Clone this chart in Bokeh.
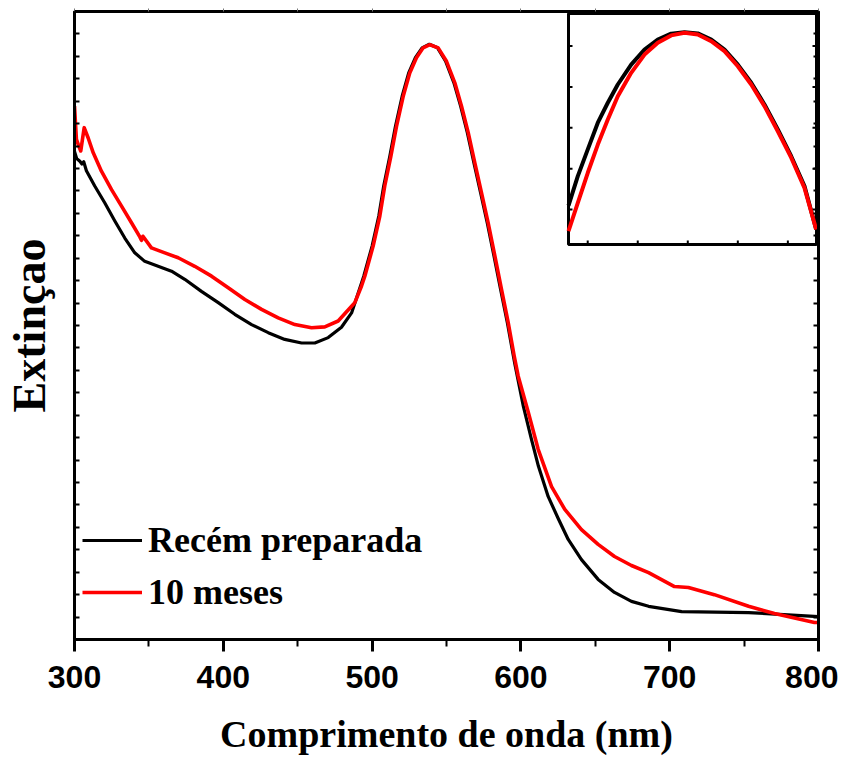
from bokeh.plotting import figure
from bokeh.models import Range1d, LinearAxis, FixedTicker, Legend, LegendItem, ColumnDataSource
from bokeh.embed import file_html
from bokeh.resources import INLINE

# ---------------- data ----------------
wl_fresh = [300, 301.5, 303.6, 305.0, 306.2, 308, 313.6, 320.4, 327.1, 333.8, 340.5, 347.2, 356.2,
            365.2, 374.1, 385.3, 396.6, 407.7, 419.0, 430.2, 441.3, 452.6, 461.5, 470.5, 479.4,
            486.2, 492.9, 494.4, 500.0, 504.5, 507.8, 511.9, 515.7, 520.2, 524.6, 529.1, 533.6,
            538.5, 544.0, 549.4, 555.0, 559.5, 564.0, 568.4, 572.9, 577.4, 581.9, 586.4, 590.9,
            595.9, 601.7, 607.1, 611.8, 618.3, 625.3, 631.8, 640.7, 651.9, 662.9, 674.3, 685.8,
            708, 753, 800]
ext_fresh = [1.088, 1.072, 1.066, 1.060, 1.065, 1.045, 1.011, 0.973, 0.933, 0.895, 0.862, 0.843,
             0.832, 0.821, 0.803, 0.776, 0.751, 0.725, 0.702, 0.684, 0.669, 0.661, 0.661, 0.673,
             0.696, 0.728, 0.795, 0.810, 0.877, 0.944, 1.011, 1.077, 1.144, 1.211, 1.263, 1.297,
             1.319, 1.327, 1.319, 1.289, 1.241, 1.189, 1.130, 1.063, 0.996, 0.929, 0.855, 0.780,
             0.706, 0.615, 0.519, 0.446, 0.386, 0.319, 0.268, 0.223, 0.178, 0.134, 0.105, 0.085,
             0.074, 0.062, 0.060, 0.051]

wl_aged = [300.0, 301.3, 302.9, 304.2, 306.5, 309.2, 312.6, 318.1, 324.9, 331.6, 338.3, 344.0,
           345.0, 346.0, 351.7, 360.7, 369.7, 380.8, 392.1, 403.3, 414.5, 425.7, 436.9, 448.1,
           459.3, 468.2, 477.2, 486.2, 488.4, 492.9, 495.1, 500.7, 505.2, 508.5, 512.6, 516.4,
           520.9, 525.3, 529.8, 534.3, 538.8, 544.4, 550.0, 555.6, 560.1, 564.6, 569.0, 573.5,
           578.0, 582.5, 587.0, 591.5, 595.5, 598.2, 605.0, 611.6, 620.6, 629.5, 640.7, 651.9,
           662.9, 674.3, 685.8, 703.2, 712.6, 730.0, 753.0, 770.4, 797.3, 800]
ext_aged = [1.189, 1.115, 1.100, 1.089, 1.141, 1.118, 1.085, 1.044, 1.003, 0.966, 0.929, 0.897,
            0.890, 0.899, 0.873, 0.862, 0.851, 0.832, 0.810, 0.784, 0.758, 0.736, 0.717, 0.702,
            0.695, 0.697, 0.710, 0.743, 0.751, 0.788, 0.810, 0.877, 0.944, 1.011, 1.077, 1.144,
            1.211, 1.263, 1.297, 1.319, 1.326, 1.319, 1.289, 1.241, 1.189, 1.130, 1.063, 0.996,
            0.929, 0.855, 0.780, 0.706, 0.632, 0.587, 0.506, 0.424, 0.341, 0.290, 0.245, 0.212,
            0.185, 0.165, 0.149, 0.118, 0.116, 0.100, 0.074, 0.058, 0.038, 0.038]

# inset: enlarged view of the band maximum
inset_wl = [520.00, 521.50, 523.11, 524.73, 526.34, 527.95, 530.11, 532.26, 534.40, 536.56,
            538.71, 540.85, 543.02, 545.16, 547.31, 549.47, 551.61, 553.76, 555.92, 558.06, 559.95]
inset_fresh = [1.2560, 1.2681, 1.2791, 1.2901, 1.2983, 1.3058, 1.3140, 1.3202, 1.3243, 1.3267,
               1.3273, 1.3268, 1.3243, 1.3202, 1.3140, 1.3065, 1.2976, 1.2873, 1.2763, 1.2640,
               1.2462]
inset_aged = [1.2455, 1.2571, 1.2695, 1.2811, 1.2914, 1.3010, 1.3106, 1.3181, 1.3230, 1.3260,
              1.3271, 1.3264, 1.3236, 1.3195, 1.3133, 1.3058, 1.2969, 1.2866, 1.2757, 1.2633,
              1.2462]

x_ticks = [300, 400, 500, 600, 700, 800]
x_minor_ticks = [350, 450, 550, 650, 750]
series_labels = ["Recém preparada", "10 meses"]
x_label = "Comprimento de onda (nm)"
y_label = "Extinçao"

# ---------------- layout constants ----------------
FRAME_W, FRAME_H = 744, 628
X0, X1 = 300, 800
Y0, Y1 = 0.0, 1.4
INSET_X = (520.0, 560.0)
INSET_Y = (1.24, 1.335)
# inset box position inside the frame (pixels from frame left / top)
IN_L, IN_R, IN_T, IN_B = 494.0, 742.0, 2.0, 233.0

sx = (INSET_X[1] - INSET_X[0]) / (IN_R - IN_L)
sy = (INSET_Y[1] - INSET_Y[0]) / (IN_B - IN_T)
inset_xr = Range1d(INSET_X[0] - IN_L * sx, INSET_X[1] + (FRAME_W - IN_R) * sx)
inset_yr = Range1d(INSET_Y[0] - (FRAME_H - IN_B) * sy, INSET_Y[1] + IN_T * sy)

p = figure(frame_width=FRAME_W, frame_height=FRAME_H,
           x_range=Range1d(X0, X1), y_range=Range1d(Y0, Y1),
           output_backend="svg", toolbar_location=None,
           min_border_left=72, min_border_right=20, min_border_top=11, min_border_bottom=100,
           background_fill_color="white", border_fill_color="white")
p.extra_x_ranges = {"inset_x": inset_xr}
p.extra_y_ranges = {"inset_y": inset_yr}
p.grid.visible = False
p.outline_line_color = "black"
p.outline_line_width = 3

# ---- axes ----
xa = p.xaxis[0]
xa.ticker = FixedTicker(ticks=x_ticks, minor_ticks=x_minor_ticks)
xa.axis_line_width = 3
xa.major_tick_line_width = 3
xa.minor_tick_line_width = 2
xa.major_tick_out = 12
xa.major_tick_in = 0
xa.minor_tick_out = 7
xa.minor_tick_in = 0
xa.major_label_text_font = "Liberation Sans"
xa.major_label_text_font_style = "bold"
xa.major_label_text_font_size = "32px"
xa.major_label_text_color = "black"
xa.major_label_standoff = 14
xa.axis_label = x_label
xa.axis_label_text_font = "Liberation Serif"
xa.axis_label_text_font_style = "bold"
xa.axis_label_text_font_size = "38px"
xa.axis_label_text_color = "black"
xa.axis_label_standoff = 22

# y ticks: unlabeled marks only (drawn as minor ticks so no labels exist)
y_tick_vals = [round(0.05 * k, 2) for k in range(29)]
ya = p.yaxis[0]
ya.ticker = FixedTicker(ticks=[], minor_ticks=y_tick_vals)
ya.axis_line_width = 3
ya.minor_tick_line_width = 2
ya.minor_tick_in = 5
ya.minor_tick_out = 0
ya.major_tick_in = 0
ya.major_tick_out = 0
ya.axis_label = y_label
ya.axis_label_text_font = "Liberation Serif"
ya.axis_label_text_font_style = "bold"
ya.axis_label_text_font_size = "46px"
ya.axis_label_text_color = "black"
ya.axis_label_standoff = 20

ra = LinearAxis(ticker=FixedTicker(ticks=[], minor_ticks=y_tick_vals),
                axis_line_width=3, minor_tick_line_width=2, minor_tick_in=5, minor_tick_out=0,
                major_tick_in=0, major_tick_out=0)
p.add_layout(ra, "right")
ta = LinearAxis(ticker=FixedTicker(ticks=[], minor_ticks=x_ticks + x_minor_ticks),
                axis_line_width=3, minor_tick_line_width=1, minor_tick_in=0, minor_tick_out=3,
                minor_tick_line_color="#777777", major_tick_in=0, major_tick_out=0)
p.add_layout(ta, "above")

# ---- main curves ----
src_f = ColumnDataSource(dict(x=wl_fresh, y=ext_fresh))
src_a = ColumnDataSource(dict(x=wl_aged, y=ext_aged))
r_f = p.line("x", "y", source=src_f, line_color="black", line_width=3.2, line_join="round")
r_a = p.line("x", "y", source=src_a, line_color="#ff0000", line_width=3.6, line_join="round")

# ---- inset ----
p.quad(left=[INSET_X[0]], right=[INSET_X[1]], bottom=[INSET_Y[0]], top=[INSET_Y[1]],
       fill_color="white", line_color="black", line_width=3,
       x_range_name="inset_x", y_range_name="inset_y")
tick_len_x = 4 * sx
tick_len_y = 4 * sy
iy_ticks = [1.2544 + 0.0168 * k for k in range(5)]
ix_ticks = [523.1 + 8.07 * k for k in range(5)]
p.segment(x0=[INSET_X[0]] * 5, x1=[INSET_X[0] + tick_len_x] * 5, y0=iy_ticks, y1=iy_ticks,
          line_color="black", line_width=2, x_range_name="inset_x", y_range_name="inset_y")
p.segment(x0=[INSET_X[1]] * 5, x1=[INSET_X[1] - tick_len_x] * 5, y0=iy_ticks, y1=iy_ticks,
          line_color="black", line_width=2, x_range_name="inset_x", y_range_name="inset_y")
p.segment(x0=ix_ticks, x1=ix_ticks, y0=[INSET_Y[0]] * 5, y1=[INSET_Y[0] + tick_len_y] * 5,
          line_color="black", line_width=2, x_range_name="inset_x", y_range_name="inset_y")
p.line(inset_wl, inset_fresh, line_color="black", line_width=4, line_join="round",
       x_range_name="inset_x", y_range_name="inset_y")
p.line(inset_wl, inset_aged, line_color="#ff0000", line_width=4, line_join="round",
       x_range_name="inset_x", y_range_name="inset_y")

# ---- legend ----
legend = Legend(items=[LegendItem(label=series_labels[0], renderers=[r_f]),
                       LegendItem(label=series_labels[1], renderers=[r_a])],
                location=(8, 26), orientation="vertical",
                glyph_width=60, glyph_height=20, label_height=20, label_standoff=6,
                spacing=10, padding=0, margin=0,
                border_line_color=None, background_fill_alpha=0,
                label_text_font="Liberation Serif", label_text_font_style="bold",
                label_text_font_size="36px", label_text_color="black")
p.add_layout(legend)

open("out.html", "w").write(file_html(p, INLINE))
